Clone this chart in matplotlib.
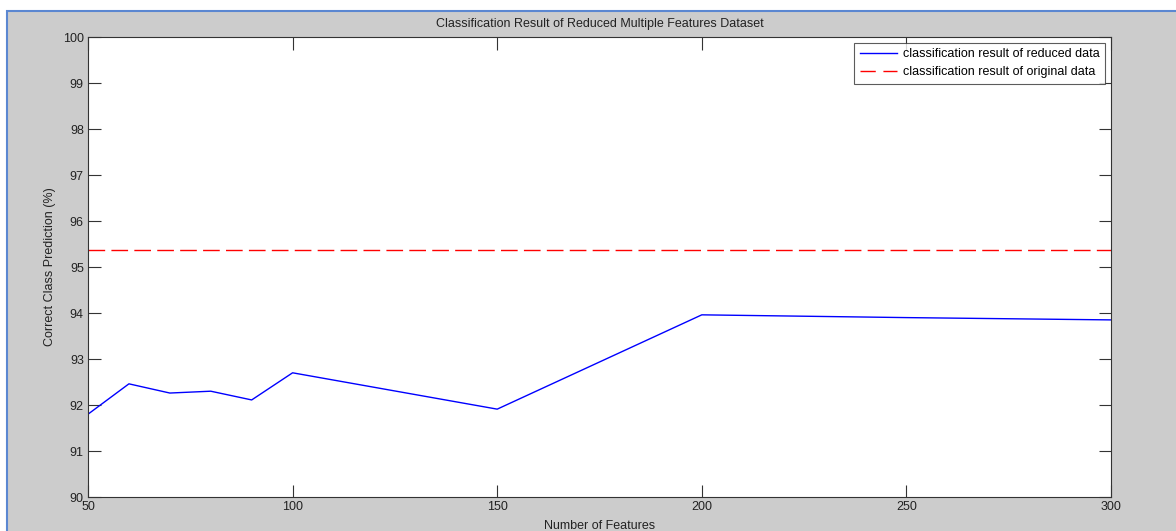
import matplotlib
matplotlib.use("Agg")
import matplotlib.pyplot as plt
from matplotlib.patches import Rectangle

features = [50, 60, 70, 80, 90, 100, 150, 200, 250, 300]
reduced_acc = [91.80, 92.46, 92.26, 92.30, 92.11, 92.70, 91.91, 93.96, 93.90, 93.85]
original_acc = 95.37
xticks = [50, 100, 150, 200, 250, 300]
yticks = list(range(90, 101))

plt.rcParams['font.family'] = ['Liberation Sans', 'DejaVu Sans']

W, H = 1176, 531
fig = plt.figure(figsize=(W / 100, H / 100), dpi=100)
fig.patch.set_facecolor('white')
# gray MATLAB-style figure area with blue frame (right/bottom edges outside the image)
fig.patches.append(Rectangle((7 / W, -0.05), 1.1, 1.05 - 11 / H, transform=fig.transFigure,
                             facecolor='#cccccc', edgecolor='#5b87d1', linewidth=1.5, zorder=-1))

ax = fig.add_axes([88 / W, 1 - 497 / H, (1111 - 88) / W, (497 - 37) / H])
ax.set_facecolor('white')
ax.plot(features, reduced_acc, color='#0000ff', linewidth=1.0,
        label='classification result of reduced data')
ax.axhline(original_acc, color='#ff0000', linewidth=1.0, dashes=(12, 4.5),
           label='classification result of original data')

ax.set_xlim(50, 300)
ax.set_ylim(90, 100)
ax.set_xticks(xticks)
ax.set_yticks(yticks)
ax.tick_params(direction='in', length=9, width=0.8, color='#333333',
               top=True, right=True, labelsize=9, labelcolor='#222222', pad=3)
for s in ax.spines.values():
    s.set_color('#333333')
    s.set_linewidth(0.8)

ax.set_title('Classification Result of Reduced Multiple Features Dataset', fontsize=9,
             color='#222222', pad=7)
ax.set_xlabel('Number of Features', fontsize=9, color='#222222', labelpad=5)
ax.set_ylabel('Correct Class Prediction (%)', fontsize=9, color='#222222', labelpad=5)

leg = ax.legend(loc='upper right', fontsize=9, frameon=True, fancybox=False,
                edgecolor='#333333', handlelength=3.0, borderaxespad=0.45,
                borderpad=0.45, labelspacing=0.45, handletextpad=0.45)
leg.get_frame().set_linewidth(0.8)
for h in leg.get_lines():
    if h.get_color() == '#ff0000':
        h.set_dashes((11, 5.5))

fig.savefig('out.png', dpi=100, facecolor=fig.get_facecolor())
